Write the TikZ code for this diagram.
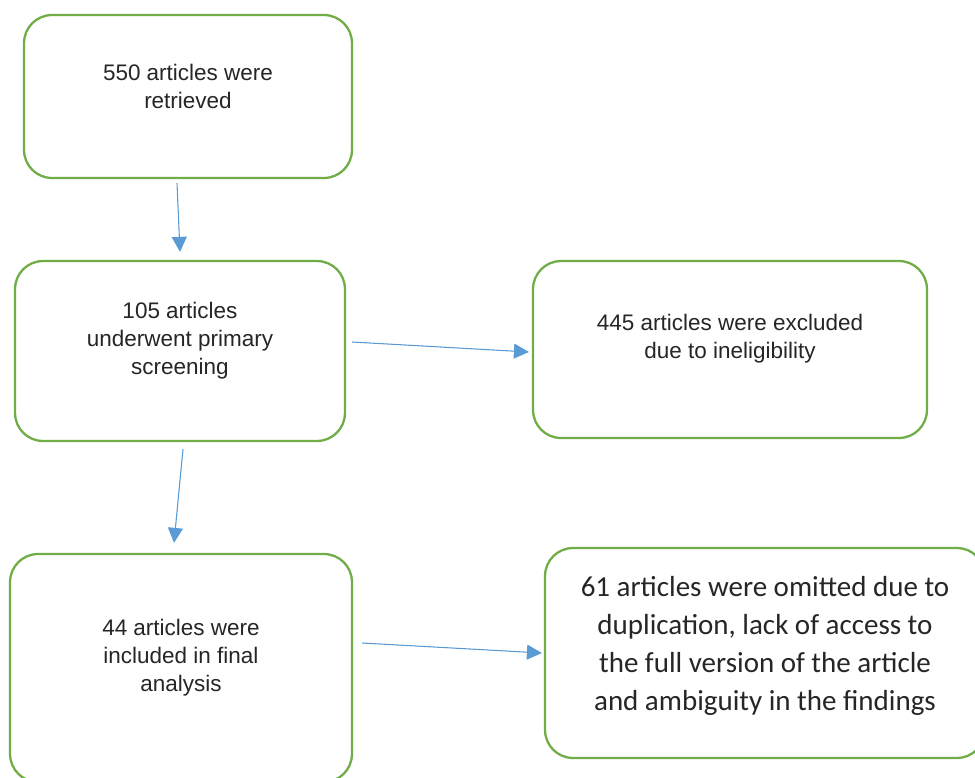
\documentclass[tikz,border=0pt]{standalone}
\usepackage{fontspec}
\setmainfont{Liberation Sans}
\newfontfamily\calibri{Carlito}
\usetikzlibrary{arrows.meta}
\definecolor{boxgreen}{HTML}{70AD47}
\definecolor{arrblue}{HTML}{5B9BD5}
\begin{document}
\begin{tikzpicture}[x=0.02cm,y=-0.02cm,
  box/.style={draw=boxgreen,line width=1.3pt,rounded corners=0.56cm,fill=white,inner sep=0pt},
  txt/.style={align=center,text=black!85,font=\fontsize{12.8}{15.9}\selectfont},
  big/.style={align=center,text=black!85,font=\calibri\fontsize{16.5}{21.5}\selectfont},
  arr/.style={-{Triangle[length=0.3cm,width=0.3cm]},draw=arrblue,fill=arrblue,line width=0.6pt}
]
\useasboundingbox (0,0) rectangle (975,778);
\node[box,minimum width=6.56cm,minimum height=3.26cm] (ret) at (188,96.5) {};
\node[box,minimum width=6.6cm,minimum height=3.6cm] (scr) at (180,351) {};
\node[box,minimum width=7.88cm,minimum height=3.54cm] (exc) at (730,349.5) {};
\node[box,minimum width=6.84cm,minimum height=4.56cm] (inc) at (181,668) {};
\node[box,minimum width=8.8cm,minimum height=4.2cm] (omi) at (765,653) {};
\node[txt] (ret-t) at ([shift={(0,-10)}]ret.center) {550 articles were\\retrieved};
\node[txt] (scr-t) at ([shift={(0,-10)}]scr.center) {105 articles\\underwent primary\\screening};
\node[txt] (exc-t) at ([shift={(0,-11)}]exc.center) {445 articles were excluded\\due to ineligibility};
\node[txt] (inc-t) at ([shift={(0,-10)}]inc.center) {44 articles were\\included in final\\analysis};
\node[big] (omi-t) at ([shift={(0,-7)}]omi.center) {61 articles were omitted due to\\duplication, lack of access to\\the full version of the article\\and ambiguity in the findings};
\draw[arr] ([shift={(-11,4)}]ret.south) -- ([shift={(0,-8)}]scr.north);
\draw[arr] ([shift={(6,-9)}]scr.east) -- ([shift={(-3,2.5)}]exc.west);
\draw[arr] ([shift={(3,7)}]scr.south) -- ([shift={(-7,-10)}]inc.north);
\draw[arr] ([shift={(9,-25)}]inc.east) -- ([shift={(-2,0)}]omi.west);
\end{tikzpicture}
\end{document}
